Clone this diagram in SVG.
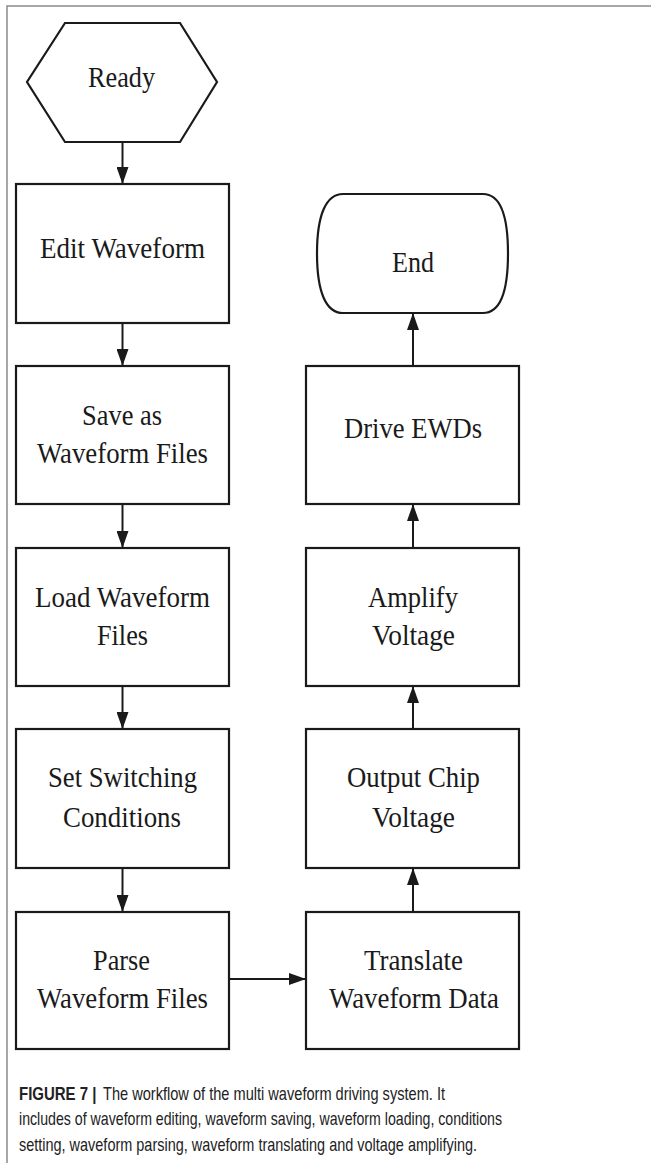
<svg xmlns="http://www.w3.org/2000/svg" width="651" height="1163" viewBox="0 0 651 1163">
<style>
.n{fill:#fff;stroke:#1a1a1a;stroke-width:2.2}
.t{font-family:"Liberation Serif","Times New Roman",serif;font-size:30px;fill:#1a1a1a;text-anchor:middle}
.c{stroke:#1a1a1a;stroke-width:2;fill:none}
.cap{font-family:"Liberation Sans",Arial,sans-serif;font-size:18.5px;fill:#222}
</style>
<defs>
<marker id="ah" markerWidth="17" markerHeight="12" refX="17" refY="6" viewBox="0 0 17 12" orient="auto" markerUnits="userSpaceOnUse">
<path d="M0,0 L17,6 L0,12 Z" fill="#1a1a1a"/>
</marker>
</defs>
<rect width="651" height="1163" fill="#fff"/>
<path d="M7,1163 L7,6 L651,6" fill="none" stroke="#8a8a8a" stroke-width="1.5"/>
<g id="connectors">
<line class="c" x1="122.5" y1="142" x2="122.5" y2="184" marker-end="url(#ah)"/>
<line class="c" x1="122.5" y1="323" x2="122.5" y2="366" marker-end="url(#ah)"/>
<line class="c" x1="122.5" y1="504" x2="122.5" y2="548" marker-end="url(#ah)"/>
<line class="c" x1="122.5" y1="686" x2="122.5" y2="729" marker-end="url(#ah)"/>
<line class="c" x1="122.5" y1="868" x2="122.5" y2="912" marker-end="url(#ah)"/>
<line class="c" x1="229" y1="979" x2="306" y2="979" marker-end="url(#ah)"/>
<line class="c" x1="413" y1="912" x2="413" y2="868" marker-end="url(#ah)"/>
<line class="c" x1="413" y1="729" x2="413" y2="686" marker-end="url(#ah)"/>
<line class="c" x1="413" y1="548" x2="413" y2="504" marker-end="url(#ah)"/>
<line class="c" x1="413" y1="366" x2="413" y2="313" marker-end="url(#ah)"/>
</g>
<g id="ready">
<polygon class="n" points="65,23 180,23 217,82 180,142 65,142 27,82"/>
<text class="t" x="121.5" y="87" textLength="67" lengthAdjust="spacingAndGlyphs">Ready</text>
</g>
<g id="edit">
<rect class="n" x="16" y="184" width="213" height="139"/>
<text class="t" x="122.5" y="258" textLength="165" lengthAdjust="spacingAndGlyphs">Edit Waveform</text>
</g>
<g id="save">
<rect class="n" x="16" y="366" width="213" height="138"/>
<text class="t" x="122" y="425" textLength="80" lengthAdjust="spacingAndGlyphs">Save as</text>
<text class="t" x="122.5" y="463" textLength="171" lengthAdjust="spacingAndGlyphs">Waveform Files</text>
</g>
<g id="load">
<rect class="n" x="16" y="548" width="213" height="138"/>
<text class="t" x="122.5" y="607" textLength="175" lengthAdjust="spacingAndGlyphs">Load Waveform</text>
<text class="t" x="122.5" y="645" textLength="51" lengthAdjust="spacingAndGlyphs">Files</text>
</g>
<g id="set">
<rect class="n" x="16" y="729" width="213" height="139"/>
<text class="t" x="122.5" y="787" textLength="149" lengthAdjust="spacingAndGlyphs">Set Switching</text>
<text class="t" x="122" y="827" textLength="118" lengthAdjust="spacingAndGlyphs">Conditions</text>
</g>
<g id="parse">
<rect class="n" x="16" y="912" width="213" height="137"/>
<text class="t" x="121.5" y="970" textLength="57" lengthAdjust="spacingAndGlyphs">Parse</text>
<text class="t" x="122.5" y="1008" textLength="171" lengthAdjust="spacingAndGlyphs">Waveform Files</text>
</g>
<g id="translate">
<rect class="n" x="306" y="912" width="213" height="137"/>
<text class="t" x="413.5" y="970" textLength="99" lengthAdjust="spacingAndGlyphs">Translate</text>
<text class="t" x="414" y="1008" textLength="170" lengthAdjust="spacingAndGlyphs">Waveform Data</text>
</g>
<g id="output">
<rect class="n" x="306" y="729" width="213" height="139"/>
<text class="t" x="413.5" y="787" textLength="133" lengthAdjust="spacingAndGlyphs">Output Chip</text>
<text class="t" x="413.5" y="827" textLength="83" lengthAdjust="spacingAndGlyphs">Voltage</text>
</g>
<g id="amplify">
<rect class="n" x="306" y="548" width="213" height="138"/>
<text class="t" x="413" y="607" textLength="90" lengthAdjust="spacingAndGlyphs">Amplify</text>
<text class="t" x="413.5" y="645" textLength="83" lengthAdjust="spacingAndGlyphs">Voltage</text>
</g>
<g id="drive">
<rect class="n" x="306" y="366" width="213" height="138"/>
<text class="t" x="413" y="438" textLength="138" lengthAdjust="spacingAndGlyphs">Drive EWDs</text>
</g>
<g id="end">
<path class="n" d="M343,194 L483,194 C500,194 508,215 508,253.5 C508,292 500,313 483,313 L343,313 C326,313 317,292 317,253.5 C317,215 326,194 343,194 Z"/>
<text class="t" x="413" y="272" textLength="42" lengthAdjust="spacingAndGlyphs">End</text>
</g>
<g id="caption">
<text class="cap" transform="translate(19,1100) scale(0.81,1)" x="0" y="0" font-weight="bold">FIGURE 7 |</text>
<text class="cap" x="103" y="1100" textLength="342" lengthAdjust="spacingAndGlyphs">The workflow of the multi waveform driving system. It</text>
<text class="cap" x="19" y="1125" textLength="483" lengthAdjust="spacingAndGlyphs">includes of waveform editing, waveform saving, waveform loading, conditions</text>
<text class="cap" x="19" y="1151" textLength="458" lengthAdjust="spacingAndGlyphs">setting, waveform parsing, waveform translating and voltage amplifying.</text>
</g>
</svg>
